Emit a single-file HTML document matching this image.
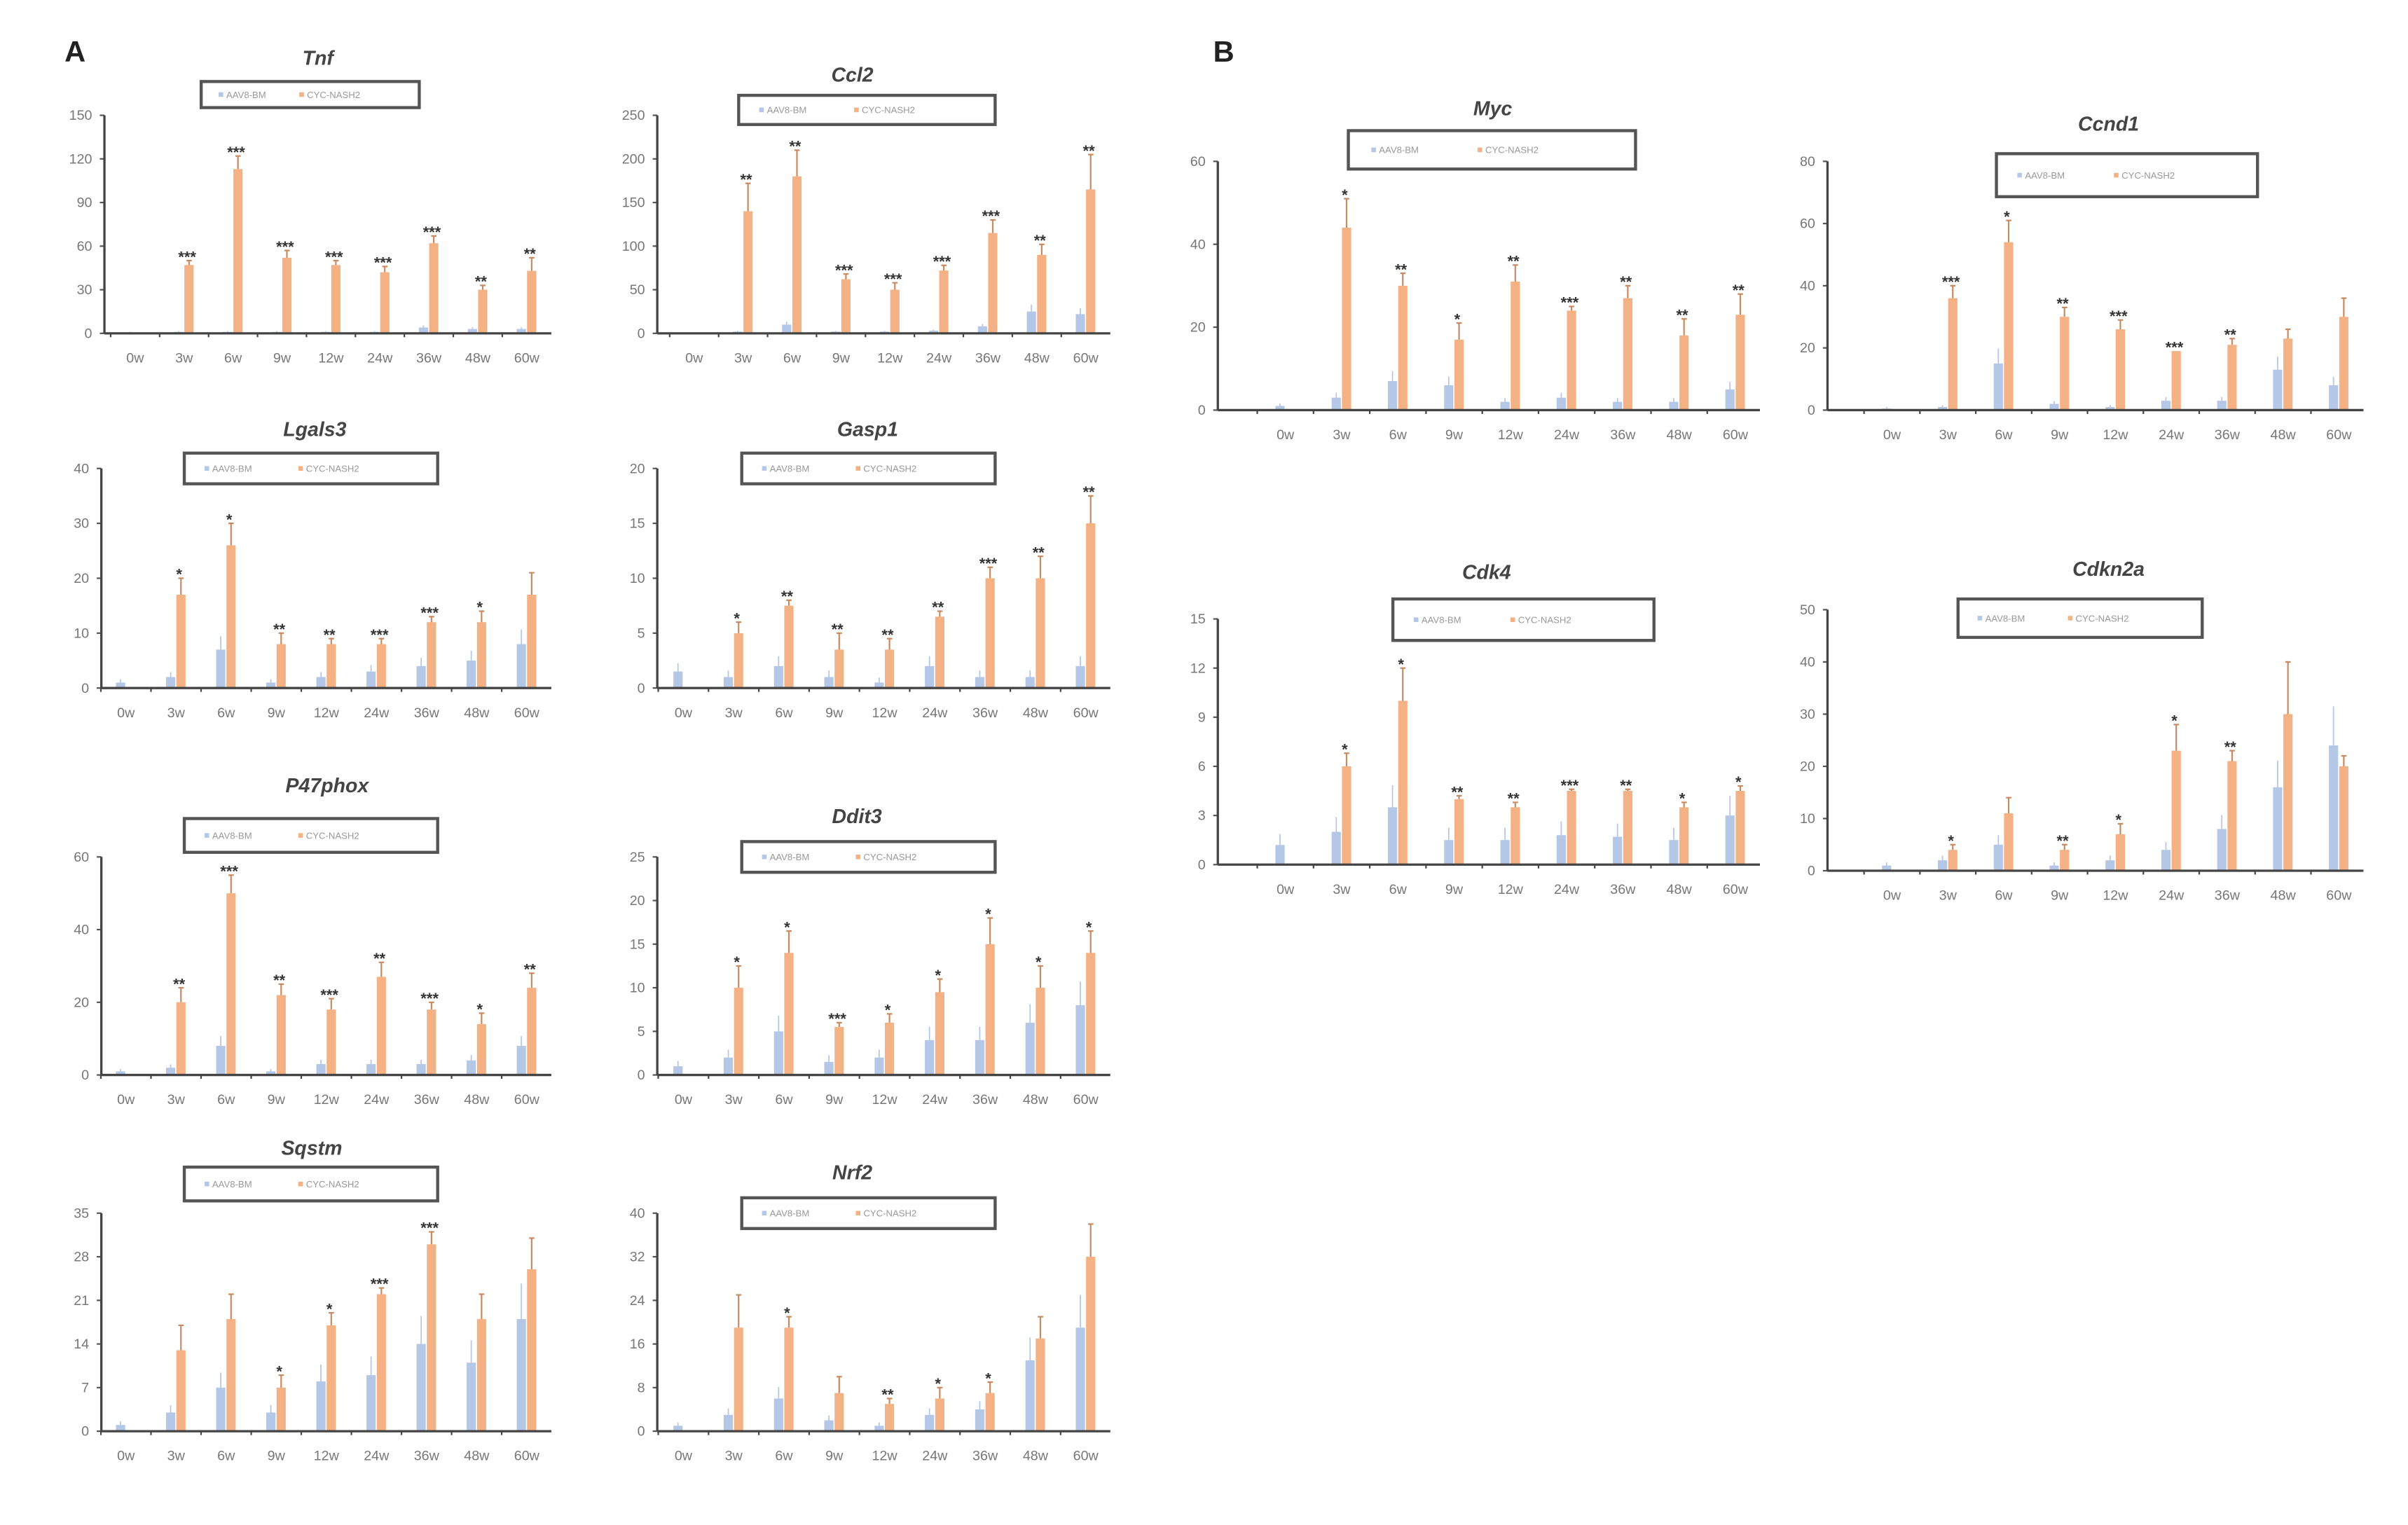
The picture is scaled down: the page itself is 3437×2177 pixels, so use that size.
<!DOCTYPE html>
<html><head><meta charset="utf-8"><style>
html,body{margin:0;padding:0;background:#fff;}
svg{display:block;}
</style></head><body>
<svg id="fig" width="3437" height="2177" viewBox="0 0 1568 993" xmlns="http://www.w3.org/2000/svg" font-family="Liberation Sans, sans-serif">
<text x="42" y="40" font-size="19" font-weight="bold" fill="#222">A</text>
<text x="790" y="40" font-size="19" font-weight="bold" fill="#222">B</text>
</svg>
<script>
const categories = ["0w","3w","6w","9w","12w","24w","36w","48w","60w"];
const tnfTicks = [0,30,60,90,120,150];
const tnfBlue = [0.5,1,1,1,1,1,4,3,3];
const tnfOrange = [0,47,113,52,47,42,62,30,43];
const tnfErr = [0,50,122,57,50,46,67,33,52];
const tnfStars = ["","***","***","***","***","***","***","**","**"];
const ccl2Ticks = [0,50,100,150,200,250];
const ccl2Blue = [0,2,10,2,2,3,8,25,22];
const ccl2Orange = [0,140,180,62,50,72,115,90,165];
const ccl2Err = [0,172,210,68,58,78,130,102,205];
const ccl2Stars = ["","**","**","***","***","***","***","**","**"];
const lgals3Ticks = [0,10,20,30,40];
const lgals3Blue = [1,2,7,1,2,3,4,5,8];
const lgals3Orange = [0,17,26,8,8,8,12,12,17];
const lgals3Err = [0,20,30,10,9,9,13,14,21];
const lgals3Stars = ["","*","*","**","**","***","***","*",""];
const gasp1Ticks = [0,5,10,15,20];
const gasp1Blue = [1.5,1,2,1,0.5,2,1,1,2];
const gasp1Orange = [0,5,7.5,3.5,3.5,6.5,10,10,15];
const gasp1Err = [0,6,8,5,4.5,7,11,12,17.5];
const gasp1Stars = ["","*","**","**","**","**","***","**","**"];
const p47Ticks = [0,20,40,60];
const p47Blue = [1,2,8,1,3,3,3,4,8];
const p47Orange = [0,20,50,22,18,27,18,14,24];
const p47Err = [0,24,55,25,21,31,20,17,28];
const p47Stars = ["","**","***","**","***","**","***","*","**"];
const ddit3Ticks = [0,5,10,15,20,25];
const ddit3Blue = [1,2,5,1.5,2,4,4,6,8];
const ddit3Orange = [0,10,14,5.5,6,9.5,15,10,14];
const ddit3Err = [0,12.5,16.5,6,7,11,18,12.5,16.5];
const ddit3Stars = ["","*","*","***","*","*","*","*","*"];
const sqstmTicks = [0,7,14,21,28,35];
const sqstmBlue = [1,3,7,3,8,9,14,11,18];
const sqstmOrange = [0,13,18,7,17,22,30,18,26];
const sqstmErr = [0,17,22,9,19,23,32,22,31];
const sqstmStars = ["","","","*","*","***","***","",""];
const nrf2Ticks = [0,8,16,24,32,40];
const nrf2Blue = [1,3,6,2,1,3,4,13,19];
const nrf2Orange = [0,19,19,7,5,6,7,17,32];
const nrf2Err = [0,25,21,10,6,8,9,21,38];
const nrf2Stars = ["","","*","","**","*","*","",""];
const mycTicks = [0,20,40,60];
const mycBlue = [1,3,7,6,2,3,2,2,5];
const mycOrange = [0,44,30,17,31,24,27,18,23];
const mycErr = [0,51,33,21,35,25,30,22,28];
const mycStars = ["","*","**","*","**","***","**","**","**"];
const ccnd1Ticks = [0,20,40,60,80];
const ccnd1Blue = [0.5,1,15,2,1,3,3,13,8];
const ccnd1Orange = [0,36,54,30,26,19,21,23,30];
const ccnd1Err = [0,40,61,33,29,19,23,26,36];
const ccnd1Stars = ["","***","*","**","***","***","**","",""];
const cdk4Ticks = [0,3,6,9,12,15];
const cdk4Blue = [1.2,2,3.5,1.5,1.5,1.8,1.7,1.5,3];
const cdk4Orange = [0,6,10,4,3.5,4.5,4.5,3.5,4.5];
const cdk4Err = [0,6.8,12,4.2,3.8,4.6,4.6,3.8,4.8];
const cdk4Stars = ["","*","*","**","**","***","**","*","*"];
const cdkn2aTicks = [0,10,20,30,40,50];
const cdkn2aBlue = [1,2,5,1,2,4,8,16,24];
const cdkn2aOrange = [0,4,11,4,7,23,21,30,20];
const cdkn2aErr = [0,5,14,5,9,28,23,40,22];
const cdkn2aStars = ["","*","","**","*","*","**","",""];

const NS = "http://www.w3.org/2000/svg";
const svg = document.getElementById("fig");
function mk(tag, attrs, parent){
  const e = document.createElementNS(NS, tag);
  for (const k in attrs) e.setAttribute(k, attrs[k]);
  parent.appendChild(e);
  return e;
}
function panel(p){
  const g = mk("g", {}, svg);
  
  
  const max = p.ticks[p.ticks.length-1];
  const y = v => p.bot - (v/max)*(p.bot-p.top);
  const step = (p.x1 - p.x0)/(categories.length-1);
  const x = i => p.x0 + i*step;
  const t = mk("text", {x:p.tx, y:p.ty, "font-size":13, "font-weight":"bold", "font-style":"italic", fill:"#444", "text-anchor":"middle"}, g);
  t.textContent = p.title;
  
  
  const lg = mk("g", {}, g);
  
  
  mk("rect", {x:p.lx0, y:p.ly0, width:p.lx1-p.lx0, height:p.ly1-p.ly0, fill:"#fff", stroke:"#555", "stroke-width":2}, lg);
  const lw = p.lx1-p.lx0, lmid = (p.ly0+p.ly1)/2;
  mk("rect", {x:p.lx0+lw*0.08, y:lmid-1.5, width:3, height:3, fill:"#b4c7e7"}, lg);
  const l1 = mk("text", {x:p.lx0+lw*0.08+5, y:lmid+2.2, "font-size":6, fill:"#999"}, lg);
  l1.textContent = "AAV8-BM";
  
  
  mk("rect", {x:p.lx0+lw*0.45, y:lmid-1.5, width:3, height:3, fill:"#f4b183"}, lg);
  const l2 = mk("text", {x:p.lx0+lw*0.45+5, y:lmid+2.2, "font-size":6, fill:"#999"}, lg);
  l2.textContent = "CYC-NASH2";
  
  
  p.ticks.forEach(v=>{
    mk("line", {x1:p.ax-3, x2:p.ax, y1:y(v), y2:y(v), stroke:"#555", "stroke-width":1}, g);
    const tl = mk("text", {x:p.ax-8, y:y(v)+3, "font-size":9, fill:"#777", "text-anchor":"end"}, g);
    tl.textContent = v;
    
    
  });
  categories.forEach((c,i)=>{
    const cx = x(i);
    const bw = 6;
    const bb = mk("rect", {x:cx-6.5, y:y(p.blue[i]), width:bw, height:p.bot-y(p.blue[i]), fill:"#b4c7e7"}, g);
    
    
    if (p.blue[i] > 0) mk("line", {x1:cx-3.5, x2:cx-3.5, y1:y(p.blue[i]*1.3+0.3), y2:y(p.blue[i]), stroke:"#b4c7e7", "stroke-width":0.8}, g);
    const ob = mk("rect", {x:cx+0.2, y:y(p.orange[i]), width:bw, height:p.bot-y(p.orange[i]), fill:"#f4b183"}, g);
    
    
    if (p.err[i] > p.orange[i]) {
      mk("line", {x1:cx+3.2, x2:cx+3.2, y1:y(p.err[i]), y2:y(p.orange[i]), stroke:"#c88a60", "stroke-width":1}, g);
      mk("line", {x1:cx+1.5, x2:cx+5, y1:y(p.err[i]), y2:y(p.err[i]), stroke:"#c88a60", "stroke-width":1}, g);
    }
    if (p.stars[i]) {
      const st = mk("text", {x:cx+2, y:y(p.err[i])+1, "font-size":10, "font-weight":"bold", fill:"#333", "text-anchor":"middle"}, g);
      st.textContent = p.stars[i];
      
      
    }
    const xl = mk("text", {x:cx, y:p.bot+19, "font-size":9, fill:"#777", "text-anchor":"middle"}, g);
    xl.textContent = c;
    
    
  });
  mk("line", {x1:p.ax, x2:p.ax, y1:p.top, y2:p.bot, stroke:"#444", "stroke-width":1.5}, g);
  mk("line", {x1:p.ax, x2:p.x1+16, y1:p.bot, y2:p.bot, stroke:"#444", "stroke-width":1.5}, g);
  categories.forEach((c,i)=>{
    mk("line", {x1:x(i)-step/2, x2:x(i)-step/2, y1:p.bot, y2:p.bot+2.5, stroke:"#444", "stroke-width":1}, g);
  });
}
panel({id:"tnf", title:"Tnf", ticks:tnfTicks, blue:tnfBlue, orange:tnfOrange, err:tnfErr, stars:tnfStars, ax:68, top:75, bot:217, x0:88, x1:343, tx:207, ty:42, lx0:131, lx1:273, ly0:53, ly1:70});
panel({id:"ccl2", title:"Ccl2", ticks:ccl2Ticks, blue:ccl2Blue, orange:ccl2Orange, err:ccl2Err, stars:ccl2Stars, ax:428, top:75, bot:217, x0:452, x1:707, tx:555, ty:53, lx0:481, lx1:648, ly0:62, ly1:81});
panel({id:"lgals3", title:"Lgals3", ticks:lgals3Ticks, blue:lgals3Blue, orange:lgals3Orange, err:lgals3Err, stars:lgals3Stars, ax:66, top:305, bot:448, x0:82, x1:343, tx:205, ty:284, lx0:120, lx1:285, ly0:295, ly1:315});
panel({id:"gasp1", title:"Gasp1", ticks:gasp1Ticks, blue:gasp1Blue, orange:gasp1Orange, err:gasp1Err, stars:gasp1Stars, ax:428, top:305, bot:448, x0:445, x1:707, tx:565, ty:284, lx0:483, lx1:648, ly0:295, ly1:315});
panel({id:"p47phox", title:"P47phox", ticks:p47Ticks, blue:p47Blue, orange:p47Orange, err:p47Err, stars:p47Stars, ax:66, top:558, bot:700, x0:82, x1:343, tx:213, ty:516, lx0:120, lx1:285, ly0:533, ly1:555});
panel({id:"ddit3", title:"Ddit3", ticks:ddit3Ticks, blue:ddit3Blue, orange:ddit3Orange, err:ddit3Err, stars:ddit3Stars, ax:428, top:558, bot:700, x0:445, x1:707, tx:558, ty:536, lx0:483, lx1:648, ly0:548, ly1:568});
panel({id:"sqstm", title:"Sqstm", ticks:sqstmTicks, blue:sqstmBlue, orange:sqstmOrange, err:sqstmErr, stars:sqstmStars, ax:66, top:790, bot:932, x0:82, x1:343, tx:203, ty:752, lx0:120, lx1:285, ly0:760, ly1:782});
panel({id:"nrf2", title:"Nrf2", ticks:nrf2Ticks, blue:nrf2Blue, orange:nrf2Orange, err:nrf2Err, stars:nrf2Stars, ax:428, top:790, bot:932, x0:445, x1:707, tx:555, ty:768, lx0:483, lx1:648, ly0:780, ly1:800});
panel({id:"myc", title:"Myc", ticks:mycTicks, blue:mycBlue, orange:mycOrange, err:mycErr, stars:mycStars, ax:793, top:105, bot:267, x0:837, x1:1130, tx:972, ty:75, lx0:878, lx1:1065, ly0:85, ly1:110});
panel({id:"ccnd1", title:"Ccnd1", ticks:ccnd1Ticks, blue:ccnd1Blue, orange:ccnd1Orange, err:ccnd1Err, stars:ccnd1Stars, ax:1190, top:105, bot:267, x0:1232, x1:1523, tx:1373, ty:85, lx0:1300, lx1:1470, ly0:100, ly1:128});
panel({id:"cdk4", title:"Cdk4", ticks:cdk4Ticks, blue:cdk4Blue, orange:cdk4Orange, err:cdk4Err, stars:cdk4Stars, ax:793, top:403, bot:563, x0:837, x1:1130, tx:968, ty:377, lx0:907, lx1:1077, ly0:390, ly1:417});
panel({id:"cdkn2a", title:"Cdkn2a", ticks:cdkn2aTicks, blue:cdkn2aBlue, orange:cdkn2aOrange, err:cdkn2aErr, stars:cdkn2aStars, ax:1190, top:397, bot:567, x0:1232, x1:1523, tx:1373, ty:375, lx0:1275, lx1:1434, ly0:390, ly1:415});
</script>
</body></html>
